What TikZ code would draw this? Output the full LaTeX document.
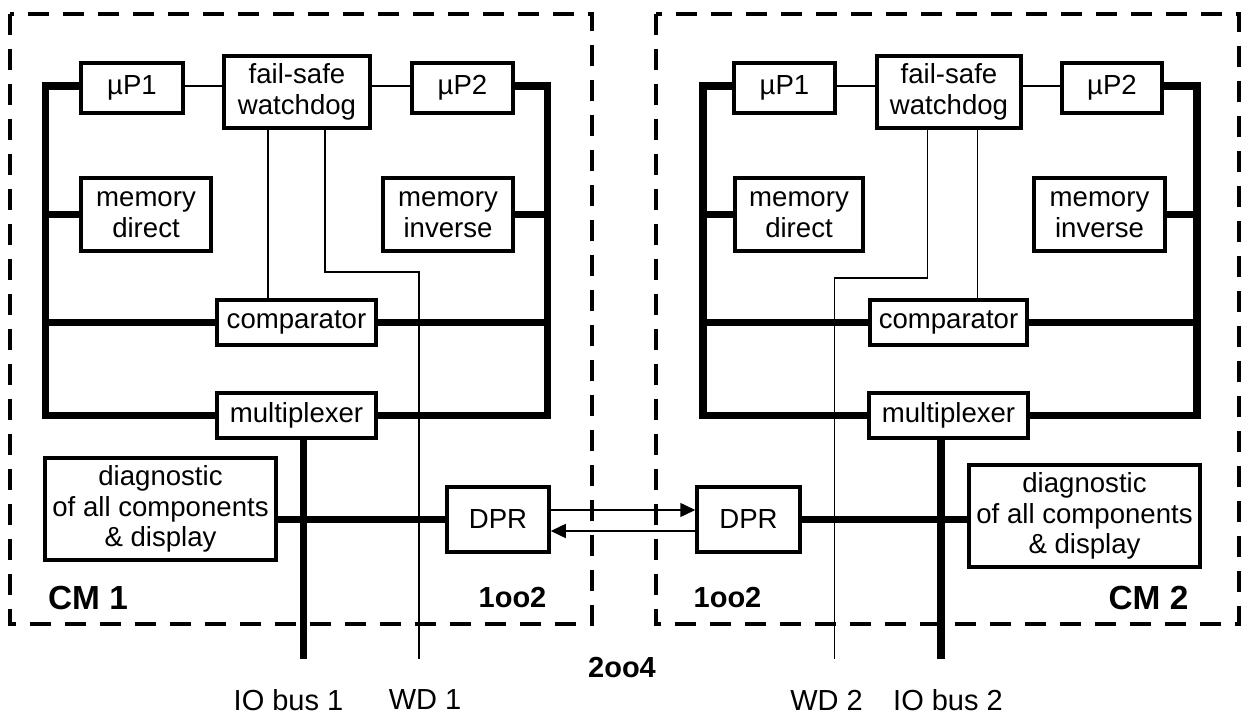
\documentclass[tikz,border=0pt]{standalone}
\usepackage{fontspec}
\setmainfont{Liberation Sans}
\usetikzlibrary{arrows.meta}
\tikzset{
  box/.style={draw, line width=2pt, inner sep=0pt, align=center,
              font=\fontsize{15.7}{17.4}\selectfont},
  bus/.style={line width=4.1pt},
  wire/.style={line width=0.85pt},
  module/.style={line width=2.2pt, dash pattern=on 0.42cm off 0.28cm},
  lbl/.style={inner sep=0pt, font=\fontsize{16.5}{18}\selectfont},
  tag/.style={inner sep=0pt, font=\fontsize{16.5}{18}\selectfont\bfseries},
  cmtag/.style={inner sep=0pt, font=\fontsize{19}{21}\selectfont\bfseries},
  link/.style={wire, -{Triangle[length=0.3cm, width=0.28cm]}},
}
\begin{document}
\begin{tikzpicture}[x=0.02cm, y=-0.02cm]
\useasboundingbox (0,0) rectangle (1244,715);

% dashed module frames
\draw[module] (10,14) rectangle (592,624);
\draw[module] (655.6,14) rectangle (1238.6,624);

% ---------- module CM 1 ----------
\node[box, minimum width=102*0.02cm, minimum height=50*0.02cm] (uP1a) at (132,88) {µP1};
\node[box, minimum width=146*0.02cm, minimum height=72*0.02cm] (wdA) at (297,92) {fail-safe\\watchdog};
\node[box, minimum width=101*0.02cm, minimum height=50*0.02cm] (uP2a) at (462.5,88) {µP2};
\node[box, minimum width=130*0.02cm, minimum height=73*0.02cm] (mdA) at (146,214.5) {memory\\direct};
\node[box, minimum width=130*0.02cm, minimum height=73*0.02cm] (miA) at (448,214.5) {memory\\inverse};
\node[box, minimum width=159*0.02cm, minimum height=45*0.02cm] (cmpA) at (296.5,322.5) {comparator};
\node[box, minimum width=159*0.02cm, minimum height=45*0.02cm] (muxA) at (296.5,415.5) {multiplexer};
\node[box, minimum width=231*0.02cm, minimum height=102*0.02cm] (diagA) at (160.5,509) {diagnostic\\of all components\\\& display};
\node[box, minimum width=102*0.02cm, minimum height=65*0.02cm] (dprA) at (498,519.5) {DPR};

\coordinate (LTa) at (45.5,86);
\coordinate (LBa) at (45.5,415.5);
\coordinate (RTa) at (547.4,86);
\coordinate (RBa) at (547.4,415.5);
\coordinate (cA) at (268,0);
\coordinate (kA) at (325,272);
\coordinate (wd1) at (419,659);
\coordinate (io1) at (303.5,659);
\coordinate (hA) at (0,86);

\draw[bus] (uP1a.west |- hA) -- (LTa) -- (LBa) -- (muxA.west);
\draw[bus] (uP2a.east |- hA) -- (RTa) -- (RBa) -- (muxA.east);
\draw[bus] (mdA.west) -- (mdA.west -| LTa);
\draw[bus] (miA.east) -- (miA.east -| RTa);
\draw[bus] (cmpA.west) -- (cmpA.west -| LTa);
\draw[bus] (cmpA.east) -- (cmpA.east -| RTa);
\draw[bus] (muxA.south -| io1) -- (io1);
\draw[bus] (dprA.west) -- (dprA.west -| diagA.east);

\draw[wire] (uP1a.east |- hA) -- (wdA.west |- hA);
\draw[wire] (uP2a.west |- hA) -- (wdA.east |- hA);
\draw[wire] (wdA.south -| cA) -- (cmpA.north -| cA);
\draw[wire] (wdA.south -| kA) -- (kA) -| (wd1);

% ---------- module CM 2 ----------
\node[box, minimum width=101*0.02cm, minimum height=50*0.02cm] (uP1b) at (784.5,88) {µP1};
\node[box, minimum width=144*0.02cm, minimum height=72*0.02cm] (wdB) at (949,92) {fail-safe\\watchdog};
\node[box, minimum width=100*0.02cm, minimum height=50*0.02cm] (uP2b) at (1112,88) {µP2};
\node[box, minimum width=128*0.02cm, minimum height=73*0.02cm] (mdB) at (799,214.5) {memory\\direct};
\node[box, minimum width=131*0.02cm, minimum height=73*0.02cm] (miB) at (1099.5,214.5) {memory\\inverse};
\node[box, minimum width=157*0.02cm, minimum height=45*0.02cm] (cmpB) at (948.5,322.5) {comparator};
\node[box, minimum width=159*0.02cm, minimum height=45*0.02cm] (muxB) at (948.5,415.5) {multiplexer};
\node[box, minimum width=231*0.02cm, minimum height=102*0.02cm] (diagB) at (1084.5,516) {diagnostic\\of all components\\\& display};
\node[box, minimum width=103*0.02cm, minimum height=65*0.02cm] (dprB) at (748.5,519.5) {DPR};

\coordinate (LTb) at (703,86);
\coordinate (LBb) at (703,415.5);
\coordinate (RTb) at (1197,86);
\coordinate (RBb) at (1197,415.5);
\coordinate (cB) at (977.7,0);
\coordinate (kB) at (927.5,278);
\coordinate (wd2) at (834.6,659);
\coordinate (io2) at (941,659);

\draw[bus] (uP1b.west |- hA) -- (LTb) -- (LBb) -- (muxB.west);
\draw[bus] (uP2b.east |- hA) -- (RTb) -- (RBb) -- (muxB.east);
\draw[bus] (mdB.west) -- (mdB.west -| LTb);
\draw[bus] (miB.east) -- (miB.east -| RTb);
\draw[bus] (cmpB.west) -- (cmpB.west -| LTb);
\draw[bus] (cmpB.east) -- (cmpB.east -| RTb);
\draw[bus] (muxB.south -| io2) -- (io2);
\draw[bus] (dprB.east) -- (dprB.east -| diagB.west);

\draw[wire] (uP1b.east |- hA) -- (wdB.west |- hA);
\draw[wire] (uP2b.west |- hA) -- (wdB.east |- hA);
\draw[wire] (wdB.south -| cB) -- (cmpB.north -| cB);
\draw[wire] (wdB.south -| kB) -- (kB) -| (wd2);

% ---------- DPR link ----------
\coordinate (aT) at (0,510);
\coordinate (aB) at (0,531);
\draw[link] (dprA.east |- aT) -- (dprB.west |- aT);
\draw[link] (dprB.west |- aB) -- (dprA.east |- aB);

% ---------- labels ----------
\node[cmtag] (cm1) at (88,598) {CM 1};
\node[tag] (oo2a) at (512.5,598) {1oo2};
\node[tag] (oo2b) at (727.5,598) {1oo2};
\node[cmtag] (cm2) at (1148.5,598) {CM 2};
\node[tag] (oo4) at (622,668) {2oo4};
\node[lbl] (lio1) at (288.5,700) {IO bus 1};
\node[lbl] (lwd1) at (425,700) {WD 1};
\node[lbl] (lwd2) at (826.5,700) {WD 2};
\node[lbl] (lio2) at (948,700) {IO bus 2};
\end{tikzpicture}
\end{document}
